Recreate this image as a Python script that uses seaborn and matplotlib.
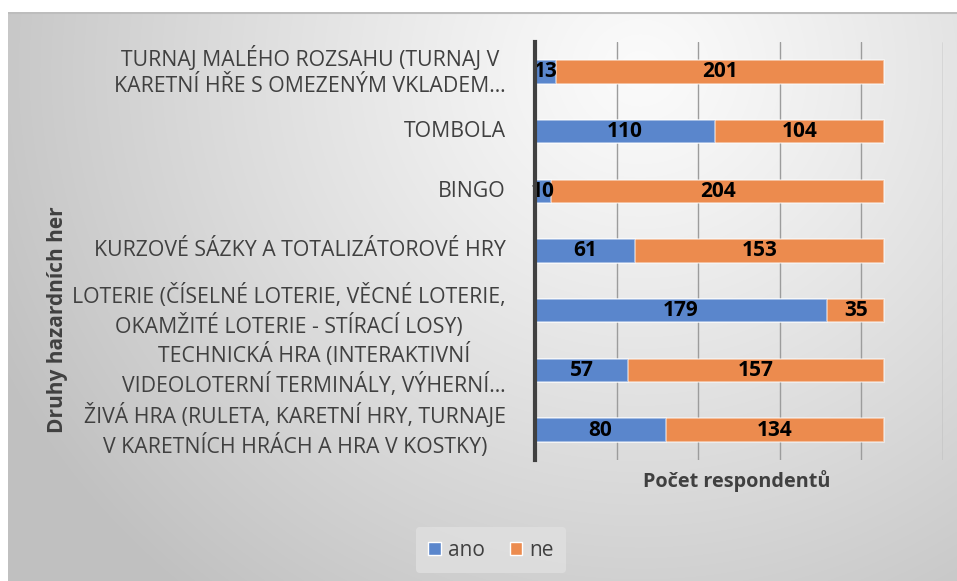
import numpy as np
import pandas as pd
import matplotlib
matplotlib.use("Agg")
import matplotlib.pyplot as plt
from matplotlib.patches import Patch
import seaborn as sns

categories = [
    "TURNAJ MALÉHO ROZSAHU (TURNAJ V\nKARETNÍ HŘE S OMEZENÝM VKLADEM…",
    "TOMBOLA",
    "BINGO",
    "KURZOVÉ SÁZKY A TOTALIZÁTOROVÉ HRY",
    "LOTERIE (ČÍSELNÉ LOTERIE, VĚCNÉ LOTERIE,\nOKAMŽITÉ LOTERIE - STÍRACÍ LOSY)",
    "TECHNICKÁ HRA (INTERAKTIVNÍ\nVIDEOLOTERNÍ TERMINÁLY, VÝHERNÍ…",
    "ŽIVÁ HRA (RULETA, KARETNÍ HRY, TURNAJE\nV KARETNÍCH HRÁCH A HRA V KOSTKY)",
]
ano = [13, 110, 10, 61, 179, 57, 80]
ne = [201, 104, 204, 153, 35, 157, 134]
series_names = ["ano", "ne"]
x_label = "Počet respondentů"
y_label = "Druhy hazardních her"

BLUE = "#5A86CC"
ORANGE = "#EC8B4E"
TXT = "#404040"

sns.set_theme(style="white")
plt.rcParams["font.family"] = ["Open Sans", "DejaVu Sans"]

df = pd.DataFrame({"cat": categories, "ano": ano, "ne": ne})
df["total"] = df["ano"] + df["ne"]

W, H = 957, 581
fig = plt.figure(figsize=(W / 100, H / 100), dpi=100)
fig.patch.set_facecolor("white")

# background gradient panel
bg = fig.add_axes([8 / W, 0, 1 - 8 / W, 1 - 12 / H], zorder=0)
yy, xx = np.mgrid[12:H, 8:W]
d = np.sqrt((xx - 640.0) ** 2 + ((yy - 70.0) * 1.05) ** 2)
val = 251 - 48 * (d / 600.0) ** 1.15
val = np.clip(val, 192, 252) / 255.0
img = np.dstack([val, val, val])
bg.imshow(img, aspect="auto", extent=[0, 1, 0, 1], interpolation="bilinear")
bg.plot([0, 1], [0.999, 0.999], color="#bdbdbd", lw=1.5, transform=bg.transAxes)
bg.axis("off")

ax = fig.add_axes([535 / W, 1 - 460 / H, 408 / W, 418 / H], zorder=2)
ax.patch.set_alpha(0)

sns.barplot(data=df, x="total", y="cat", color=ORANGE, saturation=1, width=0.39,
            orient="h", ax=ax, edgecolor=(1, 1, 1, 0.55), linewidth=1.2, zorder=3)
sns.barplot(data=df, x="ano", y="cat", color=BLUE, saturation=1, width=0.39,
            orient="h", ax=ax, edgecolor=(1, 1, 1, 0.55), linewidth=1.2, zorder=4)

n = len(categories)
tot_patches = ax.patches[:n]
ano_patches = ax.patches[n:2 * n]
for tp, ap in zip(tot_patches, ano_patches):
    cy = ap.get_y() + ap.get_height() / 2
    aw = ap.get_width()
    tw = tp.get_width()
    ax.text(aw / 2, cy, f"{int(round(aw))}", ha="center", va="center",
            fontsize=15, fontweight="bold", color="black", zorder=6)
    ax.text(aw + (tw - aw) / 2, cy, f"{int(round(tw - aw))}", ha="center", va="center",
            fontsize=15, fontweight="bold", color="black", zorder=6)

ax.set_xlim(0, 250)
ax.set_ylim(n - 0.5, -0.5)
ax.set_xticks([0, 50, 100, 150, 200, 250])
ax.set_xticklabels([])
ax.grid(axis="x", color="#9c9c9c", linewidth=1.0, zorder=1)
ax.set_axisbelow(True)
for s in ["top", "right", "bottom"]:
    ax.spines[s].set_visible(False)
ax.spines["left"].set_color("#404040")
ax.spines["left"].set_linewidth(3)
ax.spines["left"].set_zorder(7)
ax.tick_params(axis="x", length=0)
ax.tick_params(axis="y", length=0, pad=21, labelsize=15.3, labelcolor=TXT)
for lab in ax.get_yticklabels():
    lab.set_multialignment("center")
    lab.set_linespacing(1.32)
    lab.set_verticalalignment("center")
ax.set_xlabel("")
ax.set_ylabel("")

fig.text(737 / W, 1 - 481 / H, x_label, ha="center", va="center",
         fontsize=14.3, fontweight="bold", color=TXT)
fig.text(58 / W, 1 - 320 / H, y_label, ha="center", va="center", rotation=90,
         fontsize=15, fontweight="bold", color=TXT)

handles = [Patch(facecolor=BLUE), Patch(facecolor=ORANGE)]
leg = fig.legend(handles, series_names, loc="center", bbox_to_anchor=(491 / W, 1 - 550 / H),
                 ncol=2, frameon=True, fontsize=15, handlelength=0.6, handleheight=0.6,
                 handletextpad=0.35, columnspacing=1.2, borderpad=0.6)
leg.get_frame().set_facecolor((0.88, 0.88, 0.88, 0.6))
leg.get_frame().set_edgecolor("none")
for t in leg.get_texts():
    t.set_color(TXT)

fig.savefig("out.png", dpi=100)
